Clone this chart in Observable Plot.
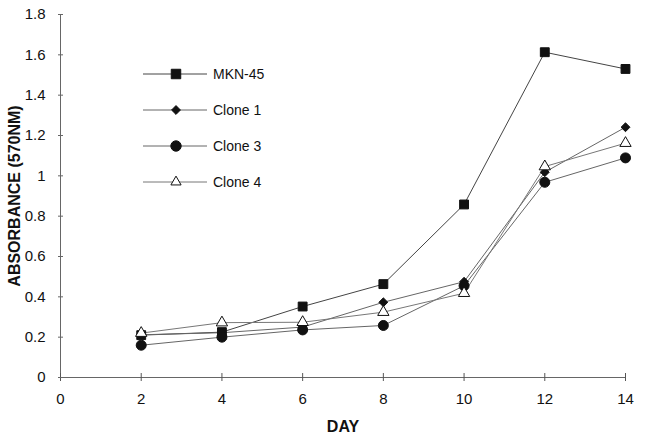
<!DOCTYPE html>
<html><head><meta charset="utf-8">
<script src="https://cdn.jsdelivr.net/npm/d3@7"></script>
<script src="https://cdn.jsdelivr.net/npm/@observablehq/plot@0.6"></script>
<style>
body{margin:0;background:#fff;font-family:"Liberation Sans",Arial,sans-serif;}
#wrap{position:relative;width:650px;height:436px;}
g[aria-label="x-axis label"] text, g[aria-label="y-axis label"] text{font-weight:bold;font-size:16px;}
#legend{position:absolute;left:0;top:0;pointer-events:none;}
</style></head>
<body><div id="wrap"></div>
<script>
const days = [2, 4, 6, 8, 10, 12, 14];
const seriesNames = ["MKN-45", "Clone 1", "Clone 3", "Clone 4"];
const mkn45  = [0.21, 0.225, 0.352, 0.463, 0.858, 1.613, 1.530];
const clone1 = [0.212, 0.222, 0.250, 0.373, 0.475, 1.018, 1.241];
const clone3 = [0.160, 0.200, 0.236, 0.258, 0.455, 0.968, 1.089];
const clone4 = [0.220, 0.272, 0.274, 0.324, 0.418, 1.046, 1.162];
const yTicks = [0, 0.2, 0.4, 0.6, 0.8, 1, 1.2, 1.4, 1.6, 1.8];
const xTicks = [0, 2, 4, 6, 8, 10, 12, 14];

const styles = {
  "MKN-45": {symbol: "square", fill: "#111", stroke: "#111", r: 5, line: "#444"},
  "Clone 1": {symbol: "diamond2", fill: "#111", stroke: "#111", r: 4, line: "#666"},
  "Clone 3": {symbol: "circle", fill: "#111", stroke: "#111", r: 5, line: "#666"},
  "Clone 4": {symbol: "triangle", fill: "#fff", stroke: "#111", r: 4.2, line: "#777"}
};
const valuesBy = {"MKN-45": mkn45, "Clone 1": clone1, "Clone 3": clone3, "Clone 4": clone4};
const rows = seriesNames.flatMap(s => days.map((d, i) => ({series: s, day: d, value: valuesBy[s][i]})));

const fmt = d => String(+d.toFixed(1));
const marks = [
  Plot.ruleY([0], {stroke: "#666", strokeWidth: 1}),
  Plot.ruleX([0], {stroke: "#666", strokeWidth: 1}),
  Plot.axisX({ticks: xTicks, tickSize: 8, dy: -4, text: null, stroke: "#555", label: null}),
  Plot.axisX({ticks: xTicks, tickSize: 0, tickPadding: 16, tickFormat: fmt, fontSize: 15, label: "DAY", labelAnchor: "center", labelArrow: false, labelOffset: 54, fill: "#111"}),
  Plot.axisY({ticks: yTicks, tickSize: 5, dx: 3, text: null, stroke: "#666", label: null}),
  Plot.axisY({ticks: yTicks, tickSize: 0, tickPadding: 15, tickFormat: fmt, fontSize: 15, label: "ABSORBANCE (570NM)", labelAnchor: "center", labelArrow: false, labelOffset: 52, fill: "#111"})
];
for (const s of seriesNames) {
  const st = styles[s];
  const data = rows.filter(r => r.series === s);
  marks.push(Plot.line(data, {x: "day", y: "value", stroke: st.line, strokeWidth: 1}));
}
for (const s of seriesNames) {
  const st = styles[s];
  const data = rows.filter(r => r.series === s);
  marks.push(Plot.dot(data, {x: "day", y: "value", symbol: () => st.symbol, fill: st.fill, stroke: st.stroke, strokeWidth: 1, r: st.r}));
}

const chart = Plot.plot({
  width: 650, height: 436,
  marginLeft: 60, marginRight: 25, marginTop: 14, marginBottom: 59,
  style: {fontFamily: "'Liberation Sans', Arial, sans-serif", fontSize: "15px", color: "#111", background: "#fff"},
  x: {domain: [0, 14], axis: null},
  y: {domain: [0, 1.8], axis: null},
  marks
});
document.getElementById("wrap").appendChild(chart);

// Legend overlay
const leg = d3.select("#wrap").append("svg").attr("id", "legend").attr("width", 650).attr("height", 436);
const symMap = {square: d3.symbolSquare, diamond2: d3.symbolDiamond2, circle: d3.symbolCircle, triangle: d3.symbolTriangle};
seriesNames.forEach((s, i) => {
  const st = styles[s];
  const y = 74 + i * 36;
  const g = leg.append("g").attr("transform", `translate(0,${y})`);
  g.append("line").attr("x1", 143).attr("x2", 207).attr("stroke", st.line).attr("stroke-width", 1);
  const size = {square: 90, diamond2: 50, circle: 85, triangle: 45}[st.symbol];
  g.append("path").attr("transform", "translate(176,0)").attr("d", d3.symbol(symMap[st.symbol], size)())
    .attr("fill", st.fill).attr("stroke", st.stroke);
  g.append("text").attr("x", 213).attr("dy", "0.35em").attr("font-size", 14).attr("fill", "#111")
    .attr("font-family", "'Liberation Sans', Arial, sans-serif").text(s);
});
</script></body></html>
